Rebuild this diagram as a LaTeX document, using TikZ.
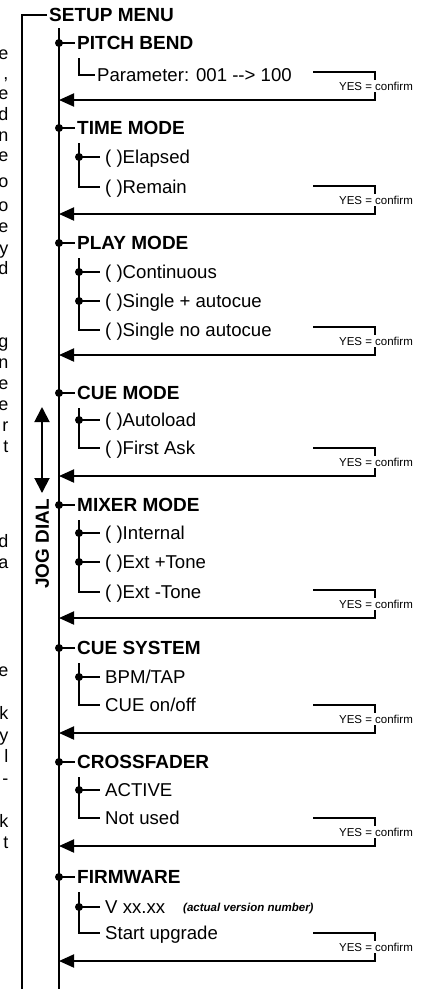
\documentclass[tikz,border=0pt]{standalone}
\usepackage{fontspec}
\setmainfont{Liberation Sans}
\usetikzlibrary{arrows.meta}

\tikzset{
  menuline/.style={line width=1.9pt},
  head/.style={font=\fontsize{19}{22}\selectfont\bfseries, anchor=west,
    inner xsep=2pt, inner ysep=0pt, text height=13.6pt, text depth=0pt},
  entry/.style={font=\fontsize{18.6}{22}\selectfont, anchor=west,
    inner xsep=5pt, inner ysep=0pt, text height=13.3pt, text depth=0pt},
  note/.style={font=\fontsize{11.5}{13}\selectfont, inner sep=0pt,
    text height=8.2pt, text depth=0pt},
  margintext/.style={font=\fontsize{18}{20}\selectfont, anchor=base east, inner sep=0pt},
  junction/.style={circle, fill, inner sep=0pt, minimum size=8pt},
  back/.style={menuline, -{Triangle[length=15pt,width=13pt]}},
}

\begin{document}
\begin{tikzpicture}[x=1pt,y=-1pt]
\useasboundingbox (0,0) rectangle (428,989);

% cut-off page text at the left edge
\foreach \y/\c in {55/e,75/{,},95/e,116/d,137/n,157/e,183/o,207/o,228/e,250/y,270/d,
  343/g,364/n,385/e,406/e,427/r,448/t,543/d,564/a,
  672/e,715/k,737/y,758/l,780/-,823/k,844/t}
  \node[margintext] (cut\y) at (8.5,\y+4) {\c};

% frame and spine
\node[head] (setup) at (47,15) {SETUP MENU};
\coordinate (frame) at (22,990);
\draw[menuline] (setup.west) -| (frame);
\coordinate (spinetop) at (59,28);
\coordinate (spinebot) at (59,990);
\draw[menuline] (spinetop) -- (spinebot);

% jog dial
\coordinate (jogtop) at (42,407);
\coordinate (jogbot) at (42,493);
\draw[menuline, {Triangle[length=15pt,width=15pt]}-{Triangle[length=15pt,width=15pt]}] (jogtop) -- (jogbot);
\node[head, rotate=90, anchor=center, inner sep=0pt] (jogdial) at (42,544) {JOG DIAL};

% menu headings
\foreach \n/\y/\txt in {1/43/PITCH BEND,2/128/TIME MODE,3/243/PLAY MODE,4/393/CUE MODE,
  5/505/MIXER MODE,6/648/CUE SYSTEM,7/762/CROSSFADER,8/877/FIRMWARE}{
  \node[junction] (j\n) at (59,\y) {};
  \node[head] (h\n) at (75,\y) {\txt};
  \draw[menuline] (j\n.center) -- (h\n.west);
  \coordinate (s\n) at (79,\y+15);
}

% sub entries
\node[entry, inner xsep=2pt] (e11) at (95,75) {Parameter: 001 -\kern0pt-\kern0pt> 100};
\node[entry] (e21) at (100,157) {( )Elapsed};
\node[entry] (e22) at (100,187) {( )Remain};
\node[entry] (e31) at (100,272) {( )Continuous};
\node[entry] (e32) at (100,301) {( )Single + autocue};
\node[entry] (e33) at (100,330) {( )Single no autocue};
\node[entry] (e41) at (100,420) {( )Autoload};
\node[entry] (e42) at (100,448) {( )First Ask};
\node[entry] (e51) at (100,533) {( )Internal};
\node[entry] (e52) at (100,562) {( )Ext +Tone};
\node[entry] (e53) at (100,592) {( )Ext -Tone};
\node[entry] (e61) at (100,677) {BPM/TAP};
\node[entry] (e62) at (100,705) {CUE on/off};
\node[entry] (e71) at (100,790) {ACTIVE};
\node[entry] (e72) at (100,818) {Not used};
\node[entry] (e81) at (100,907) {V xx.xx};
\node[entry] (e82) at (100,933) {Start upgrade};
\node[note, anchor=west, font=\fontsize{11.5}{13}\selectfont\bfseries\itshape] (vernote) at (183,907) {(actual version number)};

% sub tree lines
\foreach \e in {21,31,32,41,51,52,61,71,81}{
  \node[junction] (d\e) at (e\e.west -| s1) {};
  \draw[menuline] (d\e.center) -- (e\e.west);
}
\foreach \n/\last in {1/11,2/22,3/33,4/42,5/53,6/62,7/72,8/82}
  \draw[menuline] (s\n) |- (e\last.west);

% confirm brackets and return arrows
\foreach \n/\t in {1/72,2/186,3/327,4/448,5/590,6/705,7/818,8/933}{
  \coordinate (bt\n) at (313,\t);
  \coordinate (bc\n) at (375,\t);
  \coordinate (bg\n) at (375,\t+8);
  \coordinate (br\n) at (375,\t+20);
  \coordinate (ba\n) at (59,\t+28);
  \node[note] (yes\n) at (376,\t+14) {YES = confirm};
  \draw[menuline] (bt\n) -- (bc\n) -- (bg\n);
  \draw[back] (br\n) |- (ba\n);
}
\end{tikzpicture}
\end{document}
